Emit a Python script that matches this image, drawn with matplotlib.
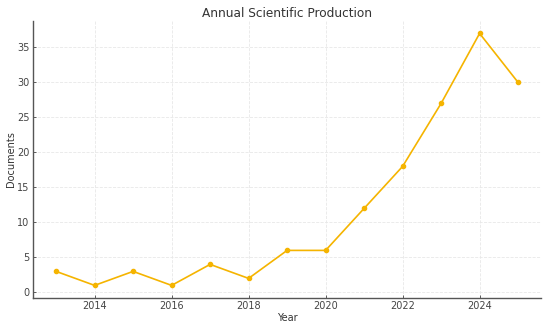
import matplotlib
matplotlib.use("Agg")
import matplotlib.pyplot as plt

# annual document counts
years = [2013, 2014, 2015, 2016, 2017, 2018, 2019, 2020, 2021, 2022, 2023, 2024, 2025]
documents = [3, 1, 3, 1, 4, 2, 6, 6, 12, 18, 27, 37, 30]

fig = plt.figure(figsize=(5.5, 3.28), dpi=100)
ax = fig.add_axes([0.06, 0.0915, 0.924, 0.845])

ax.plot(years, documents, color="#f5b400", linewidth=1.2, marker="o", markersize=3)

ax.set_title("Annual Scientific Production", fontsize=8.7, color="#333333", pad=3)
ax.set_xlabel("Year", fontsize=7, color="#333333", labelpad=1)
ax.set_ylabel("Documents", fontsize=7, color="#333333", labelpad=0.8)
ax.set_xticks([2014, 2016, 2018, 2020, 2022, 2024])
ax.set_yticks([0, 5, 10, 15, 20, 25, 30, 35])
ax.tick_params(labelsize=7, colors="#444444", direction="in", length=2.5, width=0.6, pad=2.5)

ax.grid(True, color="#e8e8e8", linestyle="--", linewidth=0.6)
for s in ["top", "right"]:
    ax.spines[s].set_visible(False)
for s in ["left", "bottom"]:
    ax.spines[s].set_color("#555555")
    ax.spines[s].set_linewidth(1.0)

fig.savefig("out.png", dpi=100)
